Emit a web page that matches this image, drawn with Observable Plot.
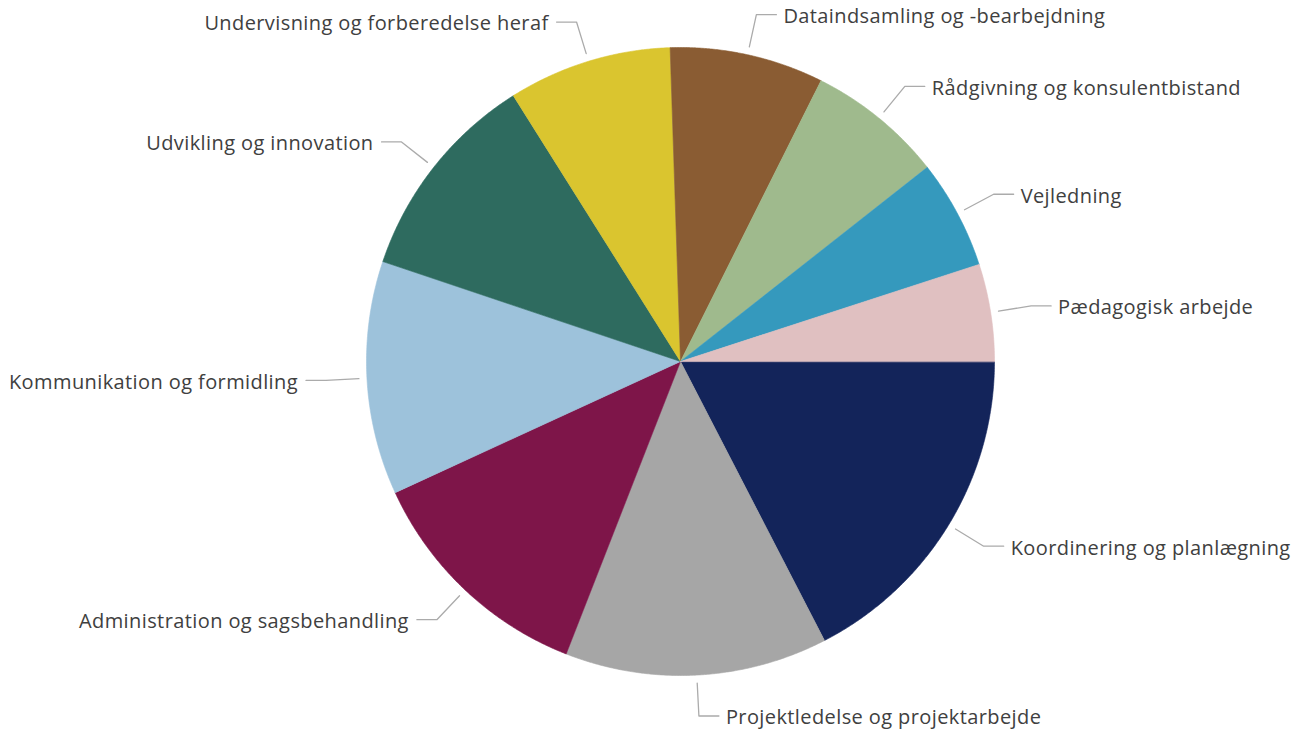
<!DOCTYPE html>
<html>
<head>
<meta charset="utf-8">
<script src="https://cdn.jsdelivr.net/npm/d3@7"></script>
<script src="https://cdn.jsdelivr.net/npm/@observablehq/plot@0.6"></script>
<style>
  html, body { margin: 0; padding: 0; background: #ffffff; }
  #chart { width: 1304px; height: 731px; }
  #chart svg text { letter-spacing: 0.4px; }
</style>
</head>
<body>
<div id="chart"></div>
<script>
const categories = [
  "Koordinering og planlægning",
  "Projektledelse og projektarbejde",
  "Administration og sagsbehandling",
  "Kommunikation og formidling",
  "Udvikling og innovation",
  "Undervisning og forberedelse heraf",
  "Dataindsamling og -bearbejdning",
  "Rådgivning og konsulentbistand",
  "Vejledning",
  "Pædagogisk arbejde"
];
const values = [17.4, 13.5, 12.2, 12.0, 10.9, 8.4, 7.9, 7.0, 5.6, 5.0];
const colors = ["#13245A", "#A6A6A6", "#7E1549", "#9DC2DB", "#2E6B5F", "#DAC52F", "#8A5C33", "#9FBA8D", "#3599BD", "#E0C0C1"];

const W = 1304, H = 731;
const cx = 680, cy = 361, R = 314;

const arcs = d3.pie().sort(null).startAngle(Math.PI / 2).endAngle(Math.PI / 2 + 2 * Math.PI)(values);

// wedge polygons in unit-radius coordinates (y down)
const wedgePts = [];
arcs.forEach((a, i) => {
  const cat = categories[i];
  wedgePts.push({cat, x: 0, y: 0});
  const n = Math.max(2, Math.ceil((a.endAngle - a.startAngle) / 0.005));
  for (let k = 0; k <= n; k++) {
    const t = a.startAngle + (a.endAngle - a.startAngle) * k / n;
    wedgePts.push({cat, x: Math.sin(t), y: -Math.cos(t)});
  }
});

// leader lines
const r1 = 322 / R, r2 = 355 / R, hor = 20 / R;
const leaderPts = [];
const labels = [];
arcs.forEach((a, i) => {
  const cat = categories[i];
  const m = (a.startAngle + a.endAngle) / 2;
  const sx = Math.sin(m), sy = -Math.cos(m);
  const right = sx >= 0;
  const bx = r2 * sx, by = r2 * sy;
  const ex = bx + (right ? hor : -hor);
  leaderPts.push({cat, x: r1 * sx, y: r1 * sy});
  leaderPts.push({cat, x: bx, y: by});
  leaderPts.push({cat, x: ex, y: by});
  labels.push({cat, x: ex, y: by, right});
});

const plot = Plot.plot({
  width: W,
  height: H,
  margin: 0,
  x: {type: "linear", domain: [-1, 1], range: [cx - R, cx + R], axis: null},
  y: {type: "linear", domain: [-1, 1], range: [cy - R, cy + R], axis: null},
  color: {domain: categories, range: colors},
  style: {fontFamily: "'Open Sans', 'Noto Sans', sans-serif", background: "#ffffff"},
  marks: [
    Plot.line(wedgePts, {x: "x", y: "y", z: "cat", fill: "cat", stroke: "cat", strokeWidth: 0.6, curve: "linear-closed"}),
    Plot.line(leaderPts, {x: "x", y: "y", z: "cat", stroke: "#ABABAB", strokeWidth: 1.3}),
    Plot.text(labels.filter(d => d.right), {x: "x", y: "y", text: "cat", textAnchor: "start", dx: 7, dy: 2, fill: "#404040", fontSize: 20}),
    Plot.text(labels.filter(d => !d.right), {x: "x", y: "y", text: "cat", textAnchor: "end", dx: -8, dy: 2, fill: "#404040", fontSize: 20})
  ]
});
document.getElementById("chart").appendChild(plot);
</script>
</body>
</html>
